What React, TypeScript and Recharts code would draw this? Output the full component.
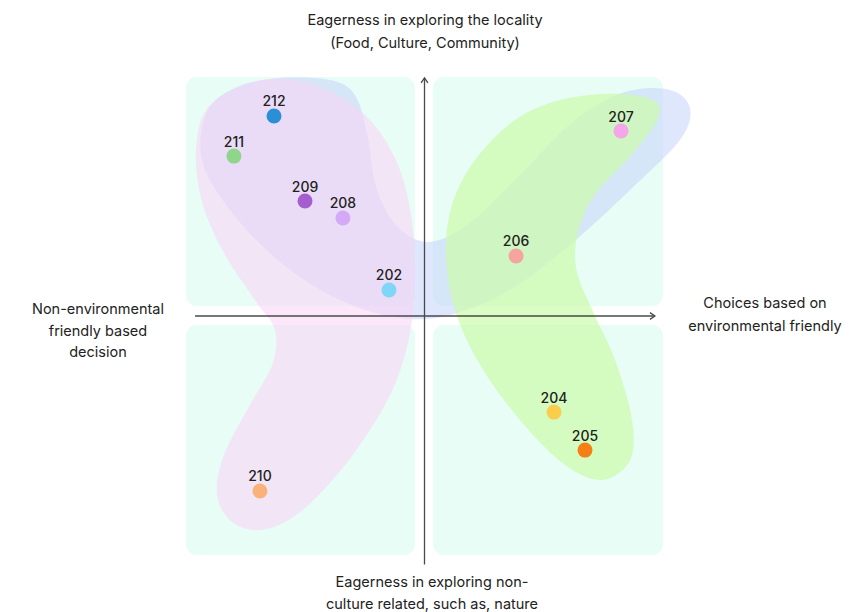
import React from 'react';
import { ScatterChart, Scatter, XAxis, YAxis, ZAxis, Cell, LabelList } from 'recharts';

const ids = ['212', '211', '209', '208', '202', '207', '206', '204', '205', '210'];
const xs = [-6.31, -7.99, -5.01, -3.42, -1.49, 8.24, 3.84, 5.43, 6.73, -6.9];
const ys = [8.37, 6.69, 4.81, 4.1, 1.09, 7.74, 2.51, -4.02, -5.61, -7.32];
const colors = ['#2b8fd8', '#8fd68a', '#a45ed0', '#d4aaf6', '#7fd6f6', '#f5a6e8', '#f6a4a0', '#fccd4d', '#f57f17', '#f9b27a'];

// cluster outlines (data units)
const blueBlob = [
  [-9.12, 8.54], [-7.95, 9.54], [-6.06, 9.96], [-3.96, 9.87], [-2.92, 9.25], [-2.4, 7.6],
  [-2.0, 5.3], [-1.1, 3.7], [0.23, 3.1], [1.91, 3.9], [4.0, 5.9], [6.31, 8.2],
  [8.41, 9.37], [10.29, 9.46], [11.13, 8.7], [10.71, 7.36], [8.62, 5.27], [6.1, 2.97],
  [3.58, 1.09], [1.07, 0.04], [-1.03, -0.08], [-3.54, 0.67], [-6.06, 2.26], [-8.16, 4.44],
  [-9.33, 6.53],
];
const pinkBlob = [
  [-6.81, 9.87], [-4.59, 9.67], [-2.49, 8.41], [-1.11, 6.32], [-0.48, 3.6], [-0.44, 0.67],
  [-0.82, -1.63], [-1.66, -3.72], [-3.33, -6.23], [-5.22, -8.2], [-6.81, -8.95], [-8.07, -8.62],
  [-8.7, -7.49], [-8.41, -5.82], [-7.32, -3.72], [-6.39, -2.05], [-6.27, -0.59], [-7.11, 0.67],
  [-8.36, 2.55], [-9.29, 4.64], [-9.58, 6.95], [-8.99, 8.83],
];
const greenBlob = [
  [5.68, 9.04], [7.9, 9.3], [9.58, 9.04], [9.79, 8.28], [8.74, 6.82], [7.07, 4.98],
  [6.39, 3.31], [6.39, 1.84], [7.07, 0.17], [7.99, -1.84], [8.7, -4.35], [8.62, -6.03],
  [7.48, -6.86], [5.89, -6.23], [4.0, -4.35], [2.33, -2.05], [1.28, 0.25], [0.9, 2.55],
  [1.15, 4.64], [2.12, 6.53], [3.79, 8.2],
];

// quadrant panels: [x1, y1, x2, y2]
const quadrants = [
  [-10, 10, -0.4, 0.42],
  [0.36, 10, 10, 0.42],
  [-10, -0.38, -0.4, -10],
  [0.36, -0.38, 10, -10],
];

// axis segments with arrow at the end
const vAxis = [{ x: 0, y: -10.4 }, { x: 0, y: 9.96 }];
const hAxis = [{ x: -9.62, y: 0 }, { x: 9.66, y: 0 }];

const toPts = (arr: number[][]) => arr.map(([x, y]) => ({ x, y }));

const points = ids.map((id, i) => ({ name: id, x: xs[i], y: ys[i], color: colors[i] }));

const closedPath = (pts: { x: number; y: number }[]) => {
  const n = pts.length;
  let d = `M${pts[0].x},${pts[0].y}`;
  for (let i = 0; i < n; i++) {
    const p0 = pts[(i - 1 + n) % n];
    const p1 = pts[i];
    const p2 = pts[(i + 1) % n];
    const p3 = pts[(i + 2) % n];
    const c1x = p1.x + (p2.x - p0.x) / 6;
    const c1y = p1.y + (p2.y - p0.y) / 6;
    const c2x = p2.x - (p3.x - p1.x) / 6;
    const c2y = p2.y - (p3.y - p1.y) / 6;
    d += ` C${c1x},${c1y} ${c2x},${c2y} ${p2.x},${p2.y}`;
  }
  return d + 'Z';
};

const blobLine = (fill: string, opacity: number) => (props: any) => {
  const pts = props.points;
  if (!pts || pts.length < 3) return <g />;
  return <path d={closedPath(pts)} fill={fill} fillOpacity={opacity} stroke="none" />;
};

const panelLine = (props: any) => {
  const pts = props.points;
  if (!pts || pts.length < 2) return <g />;
  const x = Math.min(pts[0].x, pts[1].x);
  const y = Math.min(pts[0].y, pts[1].y);
  return (
    <rect
      x={x}
      y={y}
      width={Math.abs(pts[1].x - pts[0].x)}
      height={Math.abs(pts[1].y - pts[0].y)}
      rx={11}
      fill="#e8fdf6"
    />
  );
};

const arrowLine = (props: any) => {
  const pts = props.points;
  if (!pts || pts.length < 2) return <g />;
  const [a, b] = pts;
  const ang = Math.atan2(b.y - a.y, b.x - a.x);
  const s = 6;
  const w1x = b.x - s * Math.cos(ang - 0.6);
  const w1y = b.y - s * Math.sin(ang - 0.6);
  const w2x = b.x - s * Math.cos(ang + 0.6);
  const w2y = b.y - s * Math.sin(ang + 0.6);
  return (
    <g stroke="#4a4a4a" strokeWidth={1.3} fill="none">
      <line x1={a.x} y1={a.y} x2={b.x} y2={b.y} />
      <path d={`M${w1x},${w1y} L${b.x},${b.y} L${w2x},${w2y}`} />
    </g>
  );
};

const noDot = () => <g />;

const Dot = (props: any) => (
  <circle cx={props.cx} cy={props.cy} r={7.5} fill={props.payload.color} />
);

const textStyle: React.CSSProperties = {
  position: 'absolute',
  textAlign: 'center',
  fontSize: 14.5,
  color: '#222',
};

export default function App() {
  return (
    <div style={{ position: 'relative', width: 852, height: 612, overflow: 'hidden', fontFamily: 'Inter, "Noto Sans", sans-serif' }}>
      <style>{'body { margin: 0; overflow: hidden; }'}</style>
      <ScatterChart
        width={852}
        height={612}
        margin={{ top: 29.2, right: 141.3, bottom: 9.2, left: 138.3 }}
      >
        <XAxis type="number" dataKey="x" domain={[-12, 12]} hide />
        <YAxis type="number" dataKey="y" domain={[-12, 12]} hide />
        <ZAxis range={[177, 177]} />
        {quadrants.map((q, i) => (
          <Scatter
            key={`q${i}`}
            data={[{ x: q[0], y: q[1] }, { x: q[2], y: q[3] }]}
            line={panelLine}
            lineType="joint"
            shape={noDot}
            isAnimationActive={false}
          />
        ))}
        <Scatter data={toPts(blueBlob)} line={blobLine('#c4d4fa', 0.55)} lineType="joint" shape={noDot} isAnimationActive={false} />
        <Scatter data={toPts(pinkBlob)} line={blobLine('#f9d5f6', 0.6)} lineType="joint" shape={noDot} isAnimationActive={false} />
        <Scatter data={toPts(greenBlob)} line={blobLine('#ccfbab', 0.7)} lineType="joint" shape={noDot} isAnimationActive={false} />
        <Scatter data={vAxis} line={arrowLine} lineType="joint" shape={noDot} isAnimationActive={false} />
        <Scatter data={hAxis} line={arrowLine} lineType="joint" shape={noDot} isAnimationActive={false} />
        <Scatter data={points} shape={Dot} isAnimationActive={false}>
          {points.map((p) => (
            <Cell key={p.name} fill={p.color} />
          ))}
          <LabelList dataKey="name" position="top" offset={5} fontSize={14} fontWeight={500} fill="#222" />
        </Scatter>
      </ScatterChart>
      <div style={{ ...textStyle, left: 225, width: 400, top: 8, lineHeight: '23px' }}>
        Eagerness in exploring the locality
        <br />
        (Food, Culture, Community)
      </div>
      <div style={{ ...textStyle, left: 8, width: 180, top: 298, lineHeight: '21.5px' }}>
        Non-environmental
        <br />
        friendly based
        <br />
        decision
      </div>
      <div style={{ ...textStyle, left: 675, width: 180, top: 290.5, lineHeight: '23px' }}>
        Choices based on
        <br />
        environmental friendly
      </div>
      <div style={{ ...textStyle, left: 232, width: 400, top: 571, lineHeight: '22px' }}>
        Eagerness in exploring non-
        <br />
        culture related, such as, nature
      </div>
    </div>
  );
}
